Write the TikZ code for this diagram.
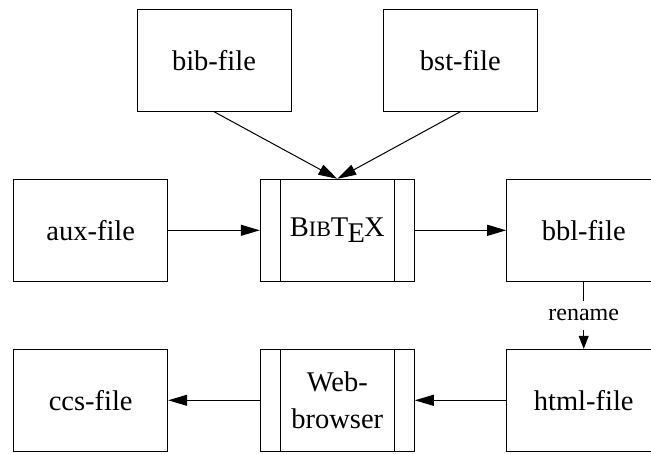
\documentclass[tikz,border=0pt]{standalone}
\usepackage{fontspec}
\setmainfont{Liberation Serif}
\usetikzlibrary{arrows.meta}

\newcommand{\bibtexlogo}{B{\fontsize{22}{26}\selectfont IB}T\kern-0.03em\lower5.3pt\hbox{E}\kern-0.03emX}

\tikzset{
  filebox/.style={draw, line width=1pt, minimum width=154pt, minimum height=102pt,
    inner sep=0pt, align=center, font=\fontsize{28.5}{36.7}\selectfont},
  flow/.style={line width=1pt, -{Triangle[length=19pt,width=11pt]}},
  flowsmall/.style={line width=1pt, -{Triangle[length=13pt,width=10pt]}},
  lbl/.style={fill=white, inner xsep=2pt, inner ysep=9pt, font=\fontsize{24}{28}\selectfont}
}

\begin{document}
\begin{tikzpicture}[x=1pt, y=-1pt]
  \useasboundingbox (0,0) rectangle (651,453);
  \clip (0,0) rectangle (651,453);

  % inputs
  \node[filebox] (bib) at (214,60.2) {bib-file};
  \node[filebox] (bst) at (460.3,60.2) {bst-file};

  % middle row
  \node[filebox] (aux) at (90.7,230.3) {aux-file};
  \node[filebox] (bibtex) at (337.3,230.3) {\bibtexlogo};
  \node[filebox] (bbl) at (583.7,230.3) {bbl-file};

  % bottom row
  \node[filebox] (ccs) at (90.7,400.3) {ccs-file};
  \node[filebox] (web) at (337.3,400.3) {Web-\\browser};
  \node[filebox] (html) at (583.7,400.3) {html-file};

  % side bars of the program boxes
  \foreach \n in {bibtex,web}{
    \draw[line width=1pt] ([xshift=20.5pt]\n.north west) -- ([xshift=20.5pt]\n.south west);
    \draw[line width=1pt] ([xshift=-20.5pt]\n.north east) -- ([xshift=-20.5pt]\n.south east);
  }

  % connections
  \draw[flow] (bib.south) -- (bibtex.north);
  \draw[flow] (bst.south) -- (bibtex.north);
  \draw[flow] (aux.east) -- (bibtex.west);
  \draw[flow] (bibtex.east) -- (bbl.west);
  \draw[flowsmall] (bbl.south) -- node[lbl] {rename} (html.north);
  \draw[flow] (html.west) -- (web.east);
  \draw[flow] (web.west) -- (ccs.east);
\end{tikzpicture}
\end{document}
